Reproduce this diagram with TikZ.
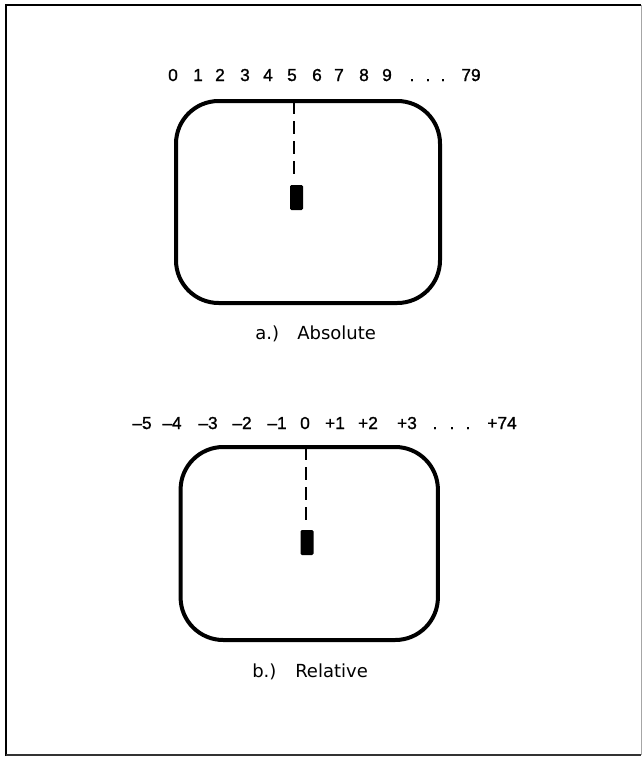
\documentclass[tikz,border=0pt]{standalone}
\usepackage{fontspec}
\setmainfont{Liberation Sans}
\newfontfamily\numfont[FakeBold=1.2]{Liberation Sans}
\newfontfamily\labfont{DejaVu Sans}
\begin{document}
\begin{tikzpicture}[x=0.75pt,y=-0.75pt]
\tikzset{
  num/.style={font=\numfont\fontsize{13}{15}\selectfont, inner sep=0pt, anchor=base},
  lab/.style={font=\labfont\fontsize{13.5}{16}\selectfont, inner sep=0pt, anchor=base west},
  screen/.style={draw, line width=3pt, rounded corners=32pt, inner sep=0pt},
  cursor/.style={fill=black, rounded corners=1pt, inner sep=0pt, minimum width=9.75pt, minimum height=18.75pt},
  guide/.style={line width=1.5pt, dash pattern=on 9.75pt off 5.25pt}
}
\useasboundingbox (0,0) rectangle (642,757);
% frame
\draw[line width=1.5pt] (6,756) -- (6,5) -- (641,5);
\draw[line width=1.2pt, black!80] (6,755) -- (641,755);
\draw[line width=0.6pt, black!35] (641,5) -- (641,755);

% ---- a.) Absolute ----
\foreach \t/\x [count=\i] in {0/173,1/198,2/220,3/245,4/268,5/292,6/317,7/339,8/364,9/387,./412,./428,./443,79/471}
  \node[num] (na\i) at (\x,81) {\t};
\node[screen, minimum width=198pt, minimum height=151.5pt] (scrA) at (308,202) {};
\node[cursor] (curA) at (296.5,197.5) {};
\coordinate (dAtop) at (294,101);
\coordinate (dAend) at (294,175);
\draw[guide] (dAtop) -- (dAend);
\node[lab] (labA) at (255,339) {a.)};
\node[lab] (labAbs) at (297,339) {Absolute};

% ---- b.) Relative ----
\foreach \t/\x [count=\i] in {–5/142,–4/172,–3/208,–2/242,–1/277,0/305,+1/335,+2/368,+3/407,./435,./452,./468,+74/502}
  \node[num] (nb\i) at (\x,429) {\t};
\node[screen, minimum width=193pt, minimum height=144.75pt] (scrB) at (309.25,543.5) {};
\node[cursor] (curB) at (307,542.5) {};
\coordinate (dBtop) at (306,447);
\coordinate (dBend) at (306,525);
\draw[guide] (dBtop) -- (dBend);
\node[lab] (labB) at (252,677) {b.)};
\node[lab] (labRel) at (295,677) {Relative};
\end{tikzpicture}
\end{document}
